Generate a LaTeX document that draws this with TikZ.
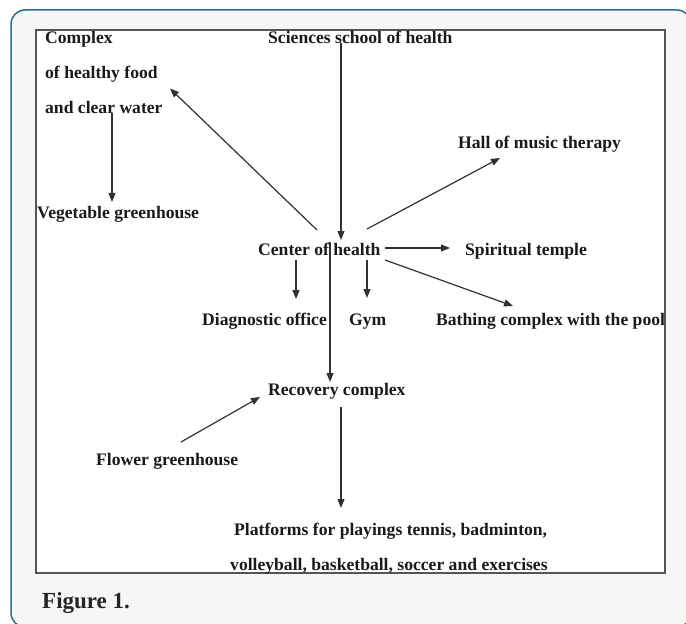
\documentclass[tikz,border=0pt]{standalone}
\usepackage{fontspec}
\setmainfont{Liberation Serif}
\usetikzlibrary{arrows.meta,calc}
\definecolor{frameblue}{HTML}{2C6E8C}
\definecolor{panel}{HTML}{F6F6F4}
\definecolor{ink}{HTML}{1A1A1A}
\definecolor{boxline}{HTML}{555555}
\begin{document}
\begin{tikzpicture}[x=1bp,y=-1bp,
  lbl/.style={inner sep=0pt, anchor=base west, font=\bfseries\fontsize{17.6bp}{20bp}\selectfont, text=ink},
  figcaption/.style={inner sep=0pt, anchor=base west, font=\bfseries\fontsize{23bp}{26bp}\selectfont, text=ink!95},
  arr/.style={draw=ink!90, line width=1.2bp, -{Triangle[length=9bp,width=7bp]}},
  ln/.style={draw=ink!90, line width=1.2bp}]
\useasboundingbox (0,0) rectangle (686,624);
\draw[frameblue, line width=1.5bp, fill=panel, rounded corners=14bp] (11,10) rectangle (691,627);
\draw[fill=white, draw=boxline, line width=1.5bp] (36,30) rectangle (665,573);

% nodes
\node[lbl] (cplx)  at (45,43.5) {Complex};
\node[lbl] (food)  at (45,78.5) {of healthy food};
\node[lbl] (water) at (45,113.5) {and clear water};
\node[lbl] (veg)   at (37,218) {Vegetable greenhouse};
\node[lbl] (sci)   at (268,43.5) {Sciences school of health};
\node[lbl] (hall)  at (458,149) {Hall of music therapy};
\node[lbl] (cent)  at (258,255) {Center of health};
\node[lbl] (spir)  at (465,255) {Spiritual temple};
\node[lbl] (diag)  at (202,325) {Diagnostic office};
\node[lbl] (gym)   at (349,325) {Gym};
\node[lbl] (bath)  at (436,325) {Bathing complex with the pool};
\node[lbl] (rec)   at (268,395) {Recovery complex};
\node[lbl] (flow)  at (96,465) {Flower greenhouse};
\node[lbl] (plat1) at (234,535) {Platforms for playings tennis, badminton,};
\node[lbl] (plat2) at (230,570.5) {volleyball, basketball, soccer and exercises};
\node[figcaption] (fig) at (42,608) {Figure 1.};

% connectors
\draw[arr] ($(sci.base west)+(73,0)$) -- ($(cent.base west)+(83,-15)$);
\draw[arr] ($(cent.base west)+(59,-25)$) -- ($(food.base west)+(125,10)$);
\draw[arr] ($(water.base west)+(67,0)$) -- ($(veg.base west)+(75,-16)$);
\draw[arr] ($(cent.base west)+(109,-26)$) -- ($(hall.base west)+(42,9)$);
\draw[arr] ($(cent.base west)+(127,-7)$) -- ($(spir.base west)+(-15,-7)$);
\draw[arr] ($(cent.base west)+(109,5)$) -- ($(gym.base west)+(18,-27)$);
\draw[arr] ($(cent.base west)+(38,5)$) -- ($(diag.base west)+(94,-26)$);
\draw[arr] ($(cent.base west)+(127,5)$) -- ($(bath.base west)+(77,-19)$);
\draw[arr] ($(cent.base west)+(72,-13)$) -- ($(rec.base west)+(62,-13)$);
\draw[arr] ($(flow.base west)+(85,-23)$) -- ($(rec.base west)+(-8,2)$);
\draw[arr] ($(rec.base west)+(73,12)$) -- ($(plat1.base west)+(107,-27)$);
\end{tikzpicture}
\end{document}
